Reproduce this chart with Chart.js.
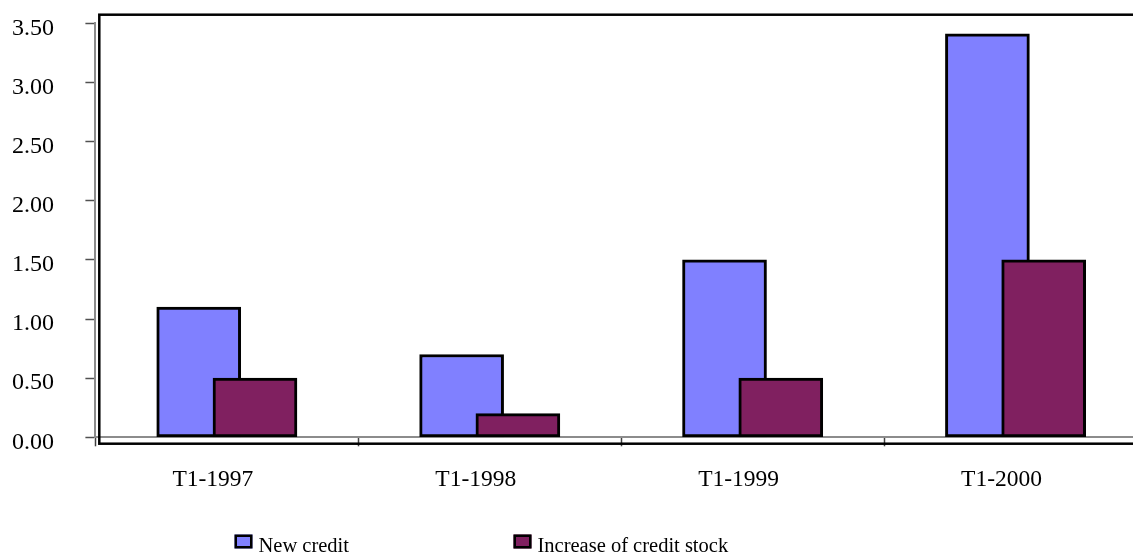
<!DOCTYPE html>
<html>
<head>
<meta charset="utf-8">
<script src="https://cdn.jsdelivr.net/npm/chart.js@4/dist/chart.umd.min.js"></script>
<style>
  html, body { margin: 0; padding: 0; background: #fff; overflow: hidden; }
  #wrap { position: relative; width: 1166px; height: 556px; }
</style>
</head>
<body>
<div id="wrap"><canvas id="c"></canvas></div>
<script>
// Quarterly credit figures (first quarter of each year)
const categories = ['T1-1997', 'T1-1998', 'T1-1999', 'T1-2000'];
const newCredit = [1.10, 0.70, 1.50, 3.41];
const creditStockIncrease = [0.50, 0.20, 0.50, 1.50];
const seriesNames = ['New credit', 'Increase of credit stock'];
const yTickValues = [0, 0.5, 1, 1.5, 2, 2.5, 3, 3.5];

const COLORS = ['#8080FF', '#802060'];
const SERIF = '"Liberation Serif", "Times New Roman", serif';

// The two bars of a quarter overlap: each sits a little left/right of the quarter's centre.
const BAR_SHIFT = 0.107;
const toPoints = (values, shift) => values.map((v, i) => ({ x: i + shift, y: v }));

// Black frame around the plot, slightly offset from the grey axes.
const plotFrame = {
  id: 'plotFrame',
  beforeDatasetsDraw(chart) {
    const { ctx, chartArea: a } = chart;
    ctx.save();
    ctx.strokeStyle = '#000';
    ctx.lineWidth = 2.5;
    ctx.strokeRect(a.left + 3.9, a.top - 8.6, a.right - a.left + 40, a.bottom - a.top + 15);
    ctx.restore();
  }
};

// Legend laid out in two fixed-width columns under the axis.
const bottomLegend = {
  id: 'bottomLegend',
  afterDraw(chart) {
    const ctx = chart.ctx;
    const startX = 234.5, colWidth = 279, boxTop = 534.5, boxW = 18, boxH = 14;
    ctx.save();
    ctx.font = '20.5px ' + SERIF;
    ctx.textBaseline = 'alphabetic';
    ctx.textAlign = 'left';
    chart.data.datasets.forEach((ds, i) => {
      const x = startX + i * colWidth;
      ctx.fillStyle = ds.backgroundColor;
      ctx.fillRect(x, boxTop, boxW, boxH);
      ctx.strokeStyle = '#000';
      ctx.lineWidth = 2.5;
      ctx.strokeRect(x + 1.25, boxTop + 1.25, boxW - 2.5, boxH - 2.5);
      ctx.fillStyle = '#000';
      ctx.fillText(ds.label, x + boxW + 6, 552);
    });
    ctx.restore();
  }
};

const barStyle = {
  borderColor: '#000',
  borderWidth: 3,
  borderSkipped: false,
  barThickness: 84
};

new Chart(document.getElementById('c'), {
  type: 'bar',
  data: {
    datasets: [
      Object.assign({ label: seriesNames[0], data: toPoints(newCredit, -BAR_SHIFT), backgroundColor: COLORS[0], order: 1 }, barStyle),
      Object.assign({ label: seriesNames[1], data: toPoints(creditStockIncrease, BAR_SHIFT), backgroundColor: COLORS[1], order: 0 }, barStyle)
    ]
  },
  options: {
    responsive: true,
    maintainAspectRatio: false,
    animation: false,
    events: [],
    layout: { padding: { top: 23.3, left: 12, right: 0, bottom: 0 } },
    datasets: { bar: { grouped: false } },
    plugins: { legend: { display: false }, tooltip: { enabled: false } },
    scales: {
      x: {
        type: 'linear',
        min: -0.5,
        max: categories.length - 0.5,
        offset: false,
        afterBuildTicks: axis => {
          const t = [];
          for (let v = -0.5; v <= categories.length - 0.5; v += 0.5) t.push({ value: v });
          axis.ticks = t;
        },
        afterFit: s => { s.height = 118.7; },
        ticks: {
          autoSkip: false,
          maxRotation: 0,
          color: '#000',
          font: { family: SERIF, size: 23.5 },
          padding: 19,
          labelOffset: -14,
          callback: v => (Number.isInteger(v) ? categories[v] : '')
        },
        grid: {
          offset: false,
          drawOnChartArea: false,
          tickLength: 9,
          tickWidth: 1.5,
          tickColor: ctx => (ctx.tick && Number.isInteger(ctx.tick.value) ? 'rgba(0,0,0,0)' : '#404040')
        },
        border: { color: '#8c8c8c', width: 2 }
      },
      y: {
        min: 0,
        max: 3.5,
        afterBuildTicks: axis => { axis.ticks = yTickValues.map(v => ({ value: v })); },
        afterFit: s => { s.width = 83.4; },
        ticks: {
          color: '#000',
          font: { family: SERIF, size: 24 },
          padding: 0,
          crossAlign: 'far',
          labelOffset: 5,
          callback: v => Number(v).toFixed(2)
        },
        grid: {
          drawOnChartArea: false,
          tickLength: 10,
          tickWidth: 1.5,
          tickColor: '#505050'
        },
        border: { color: '#8c8c8c', width: 2 }
      }
    }
  },
  plugins: [plotFrame, bottomLegend]
});
</script>
</body>
</html>
